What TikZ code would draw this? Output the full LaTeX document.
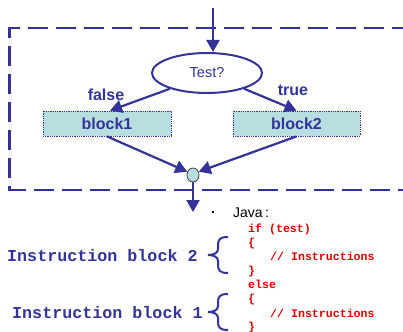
\documentclass[tikz,border=0pt]{standalone}
\usepackage{fontspec}
\setmainfont{Liberation Sans}
\newfontfamily\codefont{Liberation Mono}
\usetikzlibrary{arrows.meta,shapes.geometric}
\definecolor{dblue}{HTML}{333399}
\definecolor{lcyan}{HTML}{B8DFE0}
\definecolor{cred}{HTML}{E00000}
\tikzset{
  flow/.style={draw=dblue, line width=2.2pt, -{Triangle[length=12pt,width=13pt]}},
  blockbox/.style={rectangle, draw=dblue, densely dotted, line width=0.8pt, fill=lcyan,
    minimum height=25pt, inner sep=0pt, text=dblue, font=\bfseries\fontsize{16}{19}\selectfont},
  lbl/.style={text=dblue, font=\bfseries\fontsize{16}{19}\selectfont, inner sep=0pt},
  codeline/.style={anchor=base west, inner sep=0pt, text=cred, font=\codefont\bfseries\fontsize{11.6}{14}\selectfont},
  blocklbl/.style={anchor=base west, inner sep=0pt, text=dblue, font=\codefont\bfseries\fontsize{16.7}{19}\selectfont},
  bracestyle/.style={draw=dblue, line width=2pt}
}
\begin{document}
\begin{tikzpicture}[x=1pt,y=-1pt]
\useasboundingbox (0,0) rectangle (403,331);
% dashed frame
\draw[dblue, line width=2.5pt, dash pattern=on 20pt off 8pt, dash phase=19.5pt]
  (420,28) -- (9.5,28) -- (9.5,190) -- (420,190);
% nodes
\node (test) [ellipse, draw=dblue, line width=2pt, minimum width=110pt, minimum height=40pt,
  inner sep=0pt, text=dblue, font=\fontsize{14.5}{17}\selectfont] at (207,73) {Test?};
\node (b1) [blockbox, minimum width=128pt] at (107,123.5) {block1};
\node (b2) [blockbox, minimum width=127pt] at (296.5,123.5) {block2};
\node (j) [ellipse, draw=black!75, line width=0.8pt, fill=lcyan, minimum width=12pt,
  minimum height=14pt, inner sep=0pt] at (193,175) {};
\node (fl) [lbl] at (106,95) {false};
\node (tr) [lbl] at (293,90) {true};
\coordinate (in) at (213,8);
\coordinate (out) at (193,212);
% connectors
\draw[flow] (in) -- (in |- test.north);
\draw[flow] (test.203) -- ([xshift=3pt]b1.north);
\draw[flow] (test.337) -- (b2.north);
\draw[flow] (b1.south) -- (j.150);
\draw[flow] (b2.south) -- (j.30);
\draw[flow] (j.south) -- (out);
% Java code
\node (bul) [circle, fill=black, inner sep=0pt, minimum size=2.6pt] at (213,212) {};
\node (java) [anchor=base west, inner sep=0pt, font=\fontsize{14}{16}\selectfont] at (233,217) {Java\,:};
\node (c1) [codeline] at (248,232) {if (test)};
\node (c2) [codeline] at (248,246) {\{};
\node (c3) [codeline] at (270,260) {// Instructions};
\node (c4) [codeline] at (248,274) {\}};
\node (c5) [codeline] at (248,288) {else};
\node (c6) [codeline] at (248,302) {\{};
\node (c7) [codeline] at (270,317) {// Instructions};
\node (c8) [codeline] at (248,330) {\}};
% labels
\node (ib2) [blocklbl] at (7,261) {Instruction block 2};
\node (ib1) [blocklbl] at (12,318) {Instruction block 1};
% braces
\draw[bracestyle] (228,237) .. controls (219,237) and (218,240) .. (218,246) -- (218,249)
  .. controls (218,253) and (214,255) .. (208,255)
  .. controls (214,255) and (218,257) .. (218,261) -- (218,264)
  .. controls (218,270) and (219,273) .. (228,273);
\draw[bracestyle] (228,294) .. controls (219,294) and (218,297) .. (218,303) -- (218,306)
  .. controls (218,310) and (214,312) .. (208,312)
  .. controls (214,312) and (218,314) .. (218,318) -- (218,321)
  .. controls (218,327) and (219,330) .. (228,330);
\end{tikzpicture}
\end{document}
